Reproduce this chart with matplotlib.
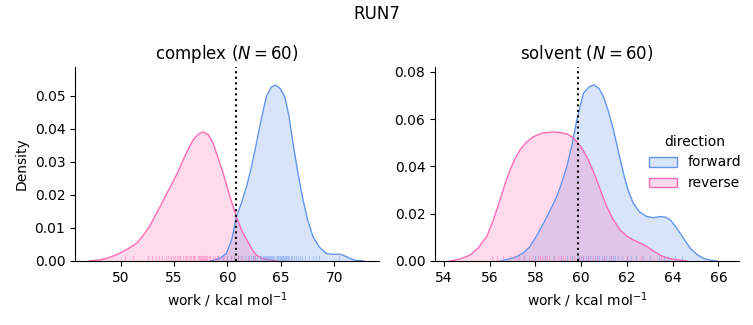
import matplotlib.pyplot as plt
from matplotlib.patches import Patch

BLUE = "#6495ED"
PINK = "#FF69B4"

# KDE curves: (work, density)
cx_fwd = [58.4, 59.3, 59.9, 60.4, 60.84, 61.3, 61.78, 62.25, 62.71, 63.2, 63.64, 64.1, 64.51, 64.95, 65.36, 65.75, 66.13, 66.6, 67.07, 67.5, 68.0, 68.6, 69.25, 69.9, 70.5, 71.0, 71.43, 72.0, 72.8]
cy_fwd = [0.0, 0.0008, 0.0023, 0.0065, 0.0134, 0.0175, 0.0225, 0.0285, 0.0357, 0.0435, 0.0498, 0.0527, 0.0533, 0.0522, 0.0498, 0.0440, 0.0357, 0.0265, 0.0185, 0.0125, 0.0074, 0.0042, 0.0023, 0.0020, 0.0021, 0.0015, 0.0008, 0.0002, 0.0]
cx_rev = [47.1, 48.0, 48.7, 49.3, 49.9, 50.7, 51.5, 52.1, 52.7, 53.2, 53.7, 54.3, 54.9, 55.4, 55.85, 56.3, 56.8, 57.3, 57.72, 58.2, 58.65, 59.1, 59.6, 60.2, 60.84, 61.3, 61.8, 62.3, 62.7, 63.3, 64.0, 64.6]
cy_rev = [0.0, 0.0003, 0.0008, 0.0015, 0.0023, 0.0037, 0.0054, 0.0077, 0.0104, 0.0135, 0.0165, 0.0203, 0.0240, 0.0272, 0.0306, 0.0337, 0.0367, 0.0385, 0.0391, 0.0383, 0.0357, 0.0315, 0.0266, 0.0198, 0.0134, 0.0095, 0.0064, 0.0035, 0.0018, 0.0007, 0.0003, 0.0]

sx_fwd = [56.45, 56.8, 57.18, 57.5, 57.76, 58.05, 58.35, 58.65, 58.93, 59.15, 59.37, 59.6, 59.81, 60.1, 60.35, 60.56, 60.78, 60.97, 61.2, 61.41, 61.63, 61.85, 62.05, 62.28, 62.55, 62.87, 63.15, 63.45, 63.7, 63.89, 64.1, 64.33, 64.55, 64.77, 65.05, 65.35, 65.65, 65.94]
sy_fwd = [0.0, 0.0007, 0.0018, 0.0036, 0.0061, 0.0105, 0.0159, 0.0215, 0.0272, 0.0330, 0.0399, 0.0490, 0.0597, 0.0710, 0.0737, 0.0745, 0.0730, 0.0696, 0.0630, 0.0555, 0.0462, 0.0371, 0.0300, 0.0244, 0.0208, 0.0188, 0.0183, 0.0188, 0.0185, 0.0174, 0.0150, 0.0117, 0.0085, 0.0054, 0.0028, 0.0011, 0.0003, 0.0]
sx_rev = [54.26, 54.7, 55.14, 55.5, 55.87, 56.15, 56.45, 56.67, 56.89, 57.1, 57.33, 57.6, 57.91, 58.3, 58.78, 59.1, 59.37, 59.6, 59.81, 60.02, 60.24, 60.46, 60.68, 60.9, 61.12, 61.4, 61.7, 62.0, 62.28, 62.6, 62.87, 63.15, 63.45, 63.75, 64.04, 64.62]
sy_rev = [0.0, 0.0008, 0.0025, 0.0055, 0.0103, 0.0170, 0.0258, 0.0325, 0.0385, 0.0432, 0.0470, 0.0502, 0.0526, 0.0541, 0.0546, 0.0543, 0.0538, 0.0525, 0.0505, 0.0478, 0.0442, 0.0395, 0.0343, 0.0285, 0.0230, 0.0175, 0.0131, 0.0105, 0.0089, 0.0075, 0.0061, 0.0043, 0.0025, 0.0013, 0.0007, 0.0]

# rug positions (individual work values), estimated
rug_c_fwd = [59.1, 59.6, 60.0, 60.3, 60.6, 61.0, 61.3, 61.6, 61.9, 62.2, 62.4, 62.6, 62.8, 63.0, 63.1, 63.3, 63.4, 63.5, 63.6, 63.7, 63.8, 63.9, 64.0, 64.1, 64.2, 64.3, 64.4, 64.5, 64.6, 64.7, 64.8, 64.9, 65.0, 65.1, 65.2, 65.3, 65.4, 65.5, 65.6, 65.7, 65.8, 65.9, 66.0, 66.2, 66.4, 66.6, 66.8, 67.0, 67.3, 67.6, 68.0, 68.3, 68.6, 70.4]
rug_c_rev = [50.4, 51.2, 52.6, 52.9, 53.3, 53.6, 53.9, 54.2, 54.4, 54.7, 54.9, 55.1, 55.3, 55.5, 55.6, 55.8, 56.0, 56.1, 56.3, 56.5, 56.6, 56.8, 56.9, 57.0, 57.2, 57.3, 57.4, 57.5, 57.6, 57.7, 57.8, 57.9, 58.0, 58.1, 58.3, 58.4, 58.6, 58.8, 59.0, 59.2, 59.5, 59.7, 60.0, 60.3, 60.6, 61.0, 61.4, 62.0, 62.5]
rug_s_fwd = [57.5, 58.0, 58.4, 58.8, 59.1, 59.4, 59.6, 59.8, 59.9, 60.0, 60.1, 60.2, 60.3, 60.4, 60.5, 60.6, 60.7, 60.8, 60.9, 61.0, 61.1, 61.2, 61.3, 61.4, 61.5, 61.6, 61.8, 62.0, 62.2, 62.4, 62.7, 63.0, 63.4, 63.6, 63.8, 64.1, 64.4]
rug_s_rev = [56.1, 56.3, 56.6, 56.9, 57.1, 57.3, 57.5, 57.7, 57.9, 58.1, 58.2, 58.3, 58.4, 58.5, 58.6, 58.8, 59.0, 59.1, 59.2, 59.3, 59.5, 59.7, 59.9, 60.1, 60.3, 60.5, 60.7, 61.0, 61.3, 62.0, 62.6, 63.5]

thresholds = [60.84, 59.85]
titles = ["complex ($N=60$)", "solvent ($N=60$)"]

fig = plt.figure(figsize=(7.53, 3.25), dpi=100)
ax1 = fig.add_axes([0.0996, 0.197, 0.4037, 0.597])
ax2 = fig.add_axes([0.5777, 0.197, 0.4037, 0.597])

panels = [
    (ax1, cx_fwd, cy_fwd, cx_rev, cy_rev, rug_c_fwd, rug_c_rev),
    (ax2, sx_fwd, sy_fwd, sx_rev, sy_rev, rug_s_fwd, rug_s_rev),
]
for i, (ax, xf, yf, xr, yr, rf, rr) in enumerate(panels):
    for x, y, c in [(xf, yf, BLUE), (xr, yr, PINK)]:
        ax.fill_between(x, y, color=c, alpha=0.25, lw=0)
        ax.plot(x, y, color=c, lw=1)
    for r, c in [(rf, BLUE), (rr, PINK)]:
        for v in r:
            ax.axvline(v, ymin=0, ymax=0.025, color=c, lw=0.8, alpha=0.4)
    ax.axvline(thresholds[i], color="black", ls=":", lw=1.5)
    ax.set_title(titles[i], fontsize=12)
    ax.set_xlabel("work / kcal mol$^{-1}$")
    ax.spines["top"].set_visible(False)
    ax.spines["right"].set_visible(False)

ax1.set_xlim(45.73, 74.18)
ax1.set_ylim(0, 0.0588)
ax1.set_xticks([50, 55, 60, 65, 70])
ax1.set_yticks([0, 0.01, 0.02, 0.03, 0.04, 0.05])
ax1.set_ylabel("Density")

ax2.set_xlim(53.61, 66.9)
ax2.set_ylim(0, 0.0821)
ax2.set_xticks([54, 56, 58, 60, 62, 64, 66])
ax2.set_yticks([0, 0.02, 0.04, 0.06, 0.08])

handles = [Patch(facecolor=(0.392, 0.584, 0.929, 0.25), edgecolor=BLUE, label="forward"),
           Patch(facecolor=(1.0, 0.412, 0.706, 0.25), edgecolor=PINK, label="reverse")]
fig.legend(handles=handles, title="direction", frameon=False,
           loc="center left", bbox_to_anchor=(0.845, 0.5))

fig.suptitle("RUN7", fontsize=12, y=0.985)
fig.savefig("out.png", dpi=100)
